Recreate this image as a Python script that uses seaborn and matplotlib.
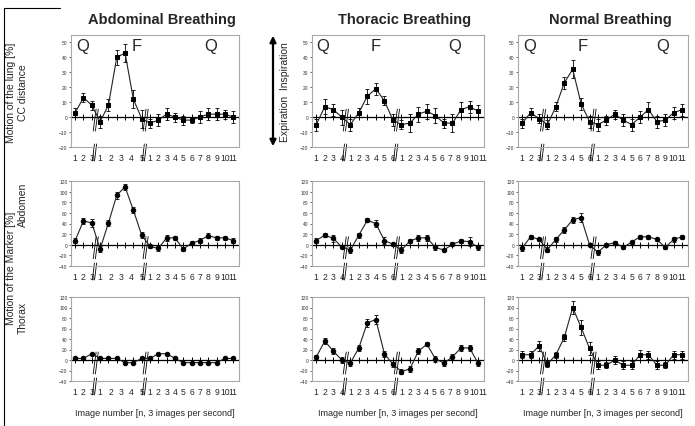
import numpy as np
import seaborn as sns
import matplotlib.pyplot as plt
from matplotlib import transforms
from matplotlib.patches import FancyArrowPatch
from matplotlib.lines import Line2D

# points per phase (Q, F, Q) for each breathing type
phases_abd = [3, 6, 11]
phases_tho = [4, 6, 10]
phases_nor = [3, 6, 11]

# x tick labels per phase
labels_abd = [['1', '2', '3'], ['1', '2', '3', '4', '5'],
              ['1', '2', '3', '4', '5', '6', '7', '8', '9', '10', '11']]
labels_tho = [['1', '2', '3', '4'], ['1', '2', '3', '4', '5', '6'],
              ['1', '2', '3', '4', '5', '6', '7', '8', '9', '10', '11']]
labels_nor = [['1', '2', '3'], ['1', '2', '3', '4', '5', '6'],
              ['1', '2', '3', '4', '5', '6', '7', '8', '9', '10', '11']]

# lung motion, CC distance [%]
lung_abd = [3, 13, 8, -3, 8, 40, 43, 12, -1, -4, -2, 2, 0, -2, -2, 0, 2, 2, 2, 0]
lung_abd_err = [3, 3, 3, 4, 4, 5, 6, 6, 6, 3, 4, 4, 3, 3, 2, 4, 4, 4, 3, 4]
lung_tho = [-5, 7, 5, 0, -5, 3, 14, 19, 11, -2, -5, -4, 2, 4, 1, -4, -4, 5, 7, 4]
lung_tho_err = [4, 5, 4, 5, 4, 3, 5, 4, 3, 4, 3, 6, 5, 5, 5, 3, 6, 5, 4, 4]
lung_nor = [-4, 3, -1, -5, 7, 23, 32, 9, -3, -5, -2, 2, -2, -5, 0, 5, -3, -2, 3, 5]
lung_nor_err = [3, 3, 3, 3, 3, 4, 6, 4, 4, 4, 3, 3, 4, 4, 4, 5, 4, 4, 4, 4]

# marker motion, abdomen [%]
abdm_abd = [8, 45, 41, -8, 41, 93, 109, 65, 18, -3, -7, 13, 13, -8, 3, 8, 17, 13, 13, 8]
abdm_abd_err = [4, 6, 7, 6, 6, 6, 6, 6, 6, 3, 4, 5, 4, 4, 4, 4, 5, 4, 4, 5]
abdm_tho = [8, 18, 12, -4, -10, 18, 46, 40, 8, 1, -10, 7, 13, 13, -5, -10, 1, 7, 6, -5]
abdm_tho_err = [5, 4, 6, 3, 6, 5, 4, 6, 6, 3, 5, 3, 6, 6, 5, 2, 4, 4, 8, 4]
abdm_nor = [-6, 15, 10, -9, 10, 28, 47, 51, 0, -14, 0, 4, -5, 5, 15, 15, 10, -5, 10, 15]
abdm_nor_err = [6, 4, 3, 4, 5, 6, 6, 9, 3, 5, 3, 3, 3, 3, 4, 4, 3, 3, 4, 4]

# marker motion, thorax [%]
thor_abd = [3, 3, 12, 3, 3, 3, -5, -5, 3, 3, 12, 12, 3, -5, -5, -5, -5, -5, 3, 3]
thor_abd_err = [2, 2, 2, 2, 2, 2, 2, 2, 2, 2, 2, 2, 2, 2, 2, 2, 2, 2, 2, 2]
thor_tho = [6, 36, 17, 0, -6, 23, 71, 77, 12, -8, -22, -17, 17, 30, 2, -6, 6, 23, 23, -6]
thor_tho_err = [4, 6, 6, 5, 6, 6, 8, 8, 6, 5, 5, 6, 5, 4, 5, 6, 6, 6, 6, 6]
thor_nor = [10, 10, 27, -8, 10, 43, 100, 62, 22, -10, -10, 0, -10, -10, 10, 10, -10, -10, 10, 10]
thor_nor_err = [7, 7, 10, 6, 6, 7, 12, 14, 12, 8, 6, 8, 8, 8, 10, 8, 8, 6, 8, 8]

titles = ['Abdominal Breathing', 'Thoracic Breathing', 'Normal Breathing']

sns.set_style('white')
plt.rcParams['font.family'] = ['Liberation Sans', 'DejaVu Sans']

W, H = 695, 427
fig = plt.figure(figsize=(W / 100, H / 100), dpi=100)

col_left = [71, 312, 518]
col_right = [239, 484, 688]
row_top = [36, 182, 298]
row_bot = [148, 267, 382]


def panel(ax, y, err, phases, labels, ylim, yticks, marker, ms, h_px):
    x = np.arange(len(y))
    ax.axhline(0, color='black', lw=0.9, zorder=1)
    ax.plot(x, np.zeros(len(x)), '|', color='black', ms=4, mew=0.7, zorder=1)
    ax.errorbar(x, y, yerr=err, fmt='none', ecolor='black', elinewidth=0.6,
                capsize=1.5, capthick=0.6, zorder=2)
    sns.lineplot(x=x, y=y, ax=ax, color='#222222', lw=0.8, marker=marker,
                 markersize=ms, markeredgecolor='black', markerfacecolor='black',
                 zorder=3)
    ax.set_xlim(-0.5, len(y) - 0.3)
    ax.set_ylim(*ylim)
    ax.set_yticks(yticks)
    ax.tick_params(axis='y', labelsize=3.5, length=1.5, width=0.5, pad=1,
                   labelcolor='#333333', left=True)

    # tick labels below the panel, spread over each phase
    pos, labs = [], []
    start = 0
    trans = transforms.blended_transform_factory(ax.transData, ax.transAxes)
    f0 = (0 - ylim[0]) / (ylim[1] - ylim[0])
    for i, (n, lab) in enumerate(zip(phases, labels)):
        end = start + n - 1 if len(lab) <= n else start + n - 0.45
        pos += list(np.linspace(start, end, len(lab)))
        labs += lab
        if i > 0:
            xb = start - 0.5
            for dx in (-0.13, 0.13):
                ax.plot([xb + dx - 0.2, xb + dx + 0.15],
                        [f0 - 14 / h_px, f0 + 8 / h_px], transform=trans,
                        clip_on=False, color='black', lw=0.6)
                ax.plot([xb + dx - 0.3, xb + dx - 0.05],
                        [-14 / h_px, 3 / h_px], transform=trans,
                        clip_on=False, color='black', lw=0.6)
        start += n
    ax.set_xticks(pos)
    ax.set_xticklabels(labs)
    ax.tick_params(axis='x', labelsize=6.2, length=0, pad=4)
    ax.set_xlabel('')
    ax.set_ylabel('')
    for s in ax.spines.values():
        s.set_color('#a8a8a8')
        s.set_linewidth(0.8)


rows = [
    [(lung_abd, lung_abd_err), (lung_tho, lung_tho_err), (lung_nor, lung_nor_err)],
    [(abdm_abd, abdm_abd_err), (abdm_tho, abdm_tho_err), (abdm_nor, abdm_nor_err)],
    [(thor_abd, thor_abd_err), (thor_tho, thor_tho_err), (thor_nor, thor_nor_err)],
]
phases = [phases_abd, phases_tho, phases_nor]
labels = [labels_abd, labels_tho, labels_nor]
axes = []
for r in range(3):
    for c in range(3):
        l, rr = col_left[c], col_right[c]
        t, b = row_top[r], row_bot[r]
        ax = fig.add_axes([l / W, 1 - b / H, (rr - l) / W, (b - t) / H])
        y, e = rows[r][c]
        if r == 0:
            ylim, yt = (-20, 55), [-20, -10, 0, 10, 20, 30, 40, 50]
        else:
            ylim, yt = (-40, 120), [-40, -20, 0, 20, 40, 60, 80, 100, 120]
        mk = 's' if (r == 0 or (r == 2 and c == 2)) else 'o'
        ms = 3.3 if r == 0 else 3.2
        panel(ax, y, e, phases[c], labels[c], ylim, yt, mk, ms, b - t)
        axes.append(ax)

# Q / F phase letters on the lung row
qf_pos = [[0.07, 0.39, 0.83], [0.06, 0.37, 0.83], [0.07, 0.38, 0.85]]
for c in range(3):
    for xf, s in zip(qf_pos[c], ['Q', 'F', 'Q']):
        axes[c].text(xf, 0.97, s, transform=axes[c].transAxes, ha='center',
                     va='top', fontsize=12)

# column titles and x labels
for c in range(3):
    xc = (col_left[c] + col_right[c]) / 2 / W
    fig.text(xc + 0.01, 1 - 20 / H, titles[c], ha='center', va='center',
             fontsize=10.5, fontweight='bold')
    fig.text(xc, 1 - 414 / H, 'Image number [n, 3 images per second]',
             ha='center', va='center', fontsize=6.5)

# left labels
fig.text(11 / W, 1 - 93 / H, 'Motion of the lung [%]', rotation=90,
         ha='center', va='center', fontsize=7.5)
fig.text(23 / W, 1 - 93 / H, 'CC distance', rotation=90,
         ha='center', va='center', fontsize=7.5)
fig.text(11 / W, 1 - 268 / H, 'Motion of the Marker [%]', rotation=90,
         ha='center', va='center', fontsize=7.5)
fig.text(23 / W, 1 - 205 / H, 'Abdomen', rotation=90,
         ha='center', va='center', fontsize=7.5)
fig.text(23 / W, 1 - 318 / H, 'Thorax', rotation=90,
         ha='center', va='center', fontsize=7.5)

# expiration / inspiration arrow
fig.add_artist(FancyArrowPatch((273 / W, 1 - 150 / H), (273 / W, 1 - 34 / H),
                               transform=fig.transFigure, arrowstyle='<|-|>',
                               mutation_scale=9, lw=1.6, color='black'))
fig.text(285 / W, 1 - 92 / H, 'Expiration  Inspiration', rotation=90,
         ha='center', va='center', fontsize=7.5)

# outer frame remnant
fig.add_artist(Line2D([4 / W, 4 / W], [0, 1 - 9 / H], transform=fig.transFigure,
                      color='black', lw=0.8))
fig.add_artist(Line2D([4 / W, 60 / W], [1 - 9 / H, 1 - 9 / H],
                      transform=fig.transFigure, color='black', lw=0.8))

fig.savefig('out.png', dpi=100, facecolor='white')
